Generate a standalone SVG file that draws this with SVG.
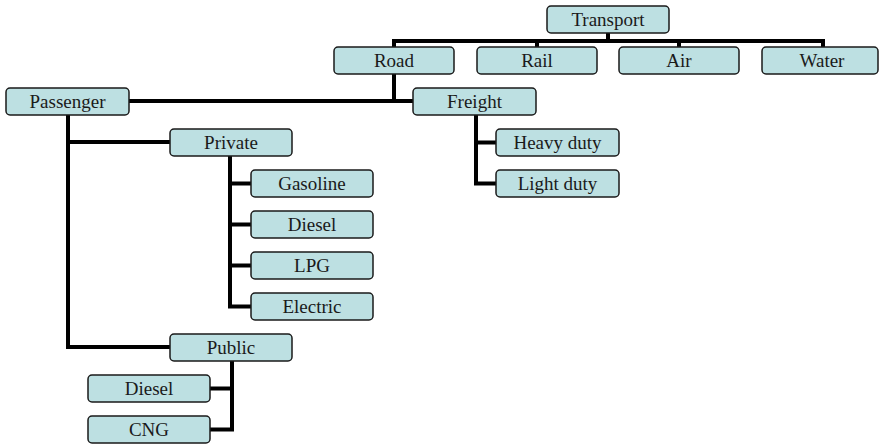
<svg xmlns="http://www.w3.org/2000/svg" width="880" height="445" viewBox="0 0 880 445">
<style>
.box{fill:#bde0e2;stroke:#1a1a1a;stroke-width:1.5}
.lbl{font-family:"Liberation Serif","Times New Roman",serif;font-size:19px;fill:#1a1a1a;text-anchor:middle}
.con{fill:none;stroke:#000;stroke-width:4;stroke-linecap:square;stroke-linejoin:miter}
</style>
<rect width="880" height="445" fill="#fff"/>
<g id="connectors">
<path class="con" d="M608 33V41M394 41H823M394 41V47M537 41V47M679 41V47M823 41V47"/>
<path class="con" d="M394 74V101M130 101H413"/>
<path class="con" d="M68 115V347H170M68 142H170"/>
<path class="con" d="M230 156V306.5M230 183.5H251M230 224.5H251M230 265.5H251M230 306.5H251"/>
<path class="con" d="M232 361V429.5M210 388.5H232M210 429.5H232"/>
<path class="con" d="M476 115V183.5M476 142.5H496M476 183.5H496"/>
</g>
<g id="transport"><rect class="box" x="547" y="6" width="122" height="27" rx="4"/><text class="lbl" x="608" y="26">Transport</text></g>
<g id="road"><rect class="box" x="334" y="47" width="120" height="27" rx="4"/><text class="lbl" x="394" y="67">Road</text></g>
<g id="rail"><rect class="box" x="477" y="47" width="120" height="27" rx="4"/><text class="lbl" x="537" y="67">Rail</text></g>
<g id="air"><rect class="box" x="619" y="47" width="120" height="27" rx="4"/><text class="lbl" x="679" y="67">Air</text></g>
<g id="water"><rect class="box" x="762" y="47" width="116" height="27" rx="4"/><text class="lbl" x="822" y="67">Water</text></g>
<g id="passenger"><rect class="box" x="6" y="88" width="123" height="27" rx="4"/><text class="lbl" x="67.5" y="108">Passenger</text></g>
<g id="freight"><rect class="box" x="413" y="88" width="123" height="27" rx="4"/><text class="lbl" x="474.5" y="108">Freight</text></g>
<g id="private"><rect class="box" x="170" y="129" width="122" height="27" rx="4"/><text class="lbl" x="231" y="149">Private</text></g>
<g id="heavy-duty"><rect class="box" x="496" y="129" width="123" height="27" rx="4"/><text class="lbl" x="557.5" y="149">Heavy duty</text></g>
<g id="light-duty"><rect class="box" x="496" y="170" width="123" height="27" rx="4"/><text class="lbl" x="557.5" y="190">Light duty</text></g>
<g id="gasoline"><rect class="box" x="251" y="170" width="122" height="27" rx="4"/><text class="lbl" x="312" y="190">Gasoline</text></g>
<g id="diesel-private"><rect class="box" x="251" y="211" width="122" height="27" rx="4"/><text class="lbl" x="312" y="231">Diesel</text></g>
<g id="lpg"><rect class="box" x="251" y="252" width="122" height="27" rx="4"/><text class="lbl" x="312" y="272">LPG</text></g>
<g id="electric"><rect class="box" x="251" y="293" width="122" height="27" rx="4"/><text class="lbl" x="312" y="313">Electric</text></g>
<g id="public"><rect class="box" x="170" y="334" width="122" height="27" rx="4"/><text class="lbl" x="231" y="354">Public</text></g>
<g id="diesel-public"><rect class="box" x="88" y="375" width="122" height="27" rx="4"/><text class="lbl" x="149" y="395">Diesel</text></g>
<g id="cng"><rect class="box" x="88" y="416" width="122" height="27" rx="4"/><text class="lbl" x="149" y="436">CNG</text></g>
</svg>
